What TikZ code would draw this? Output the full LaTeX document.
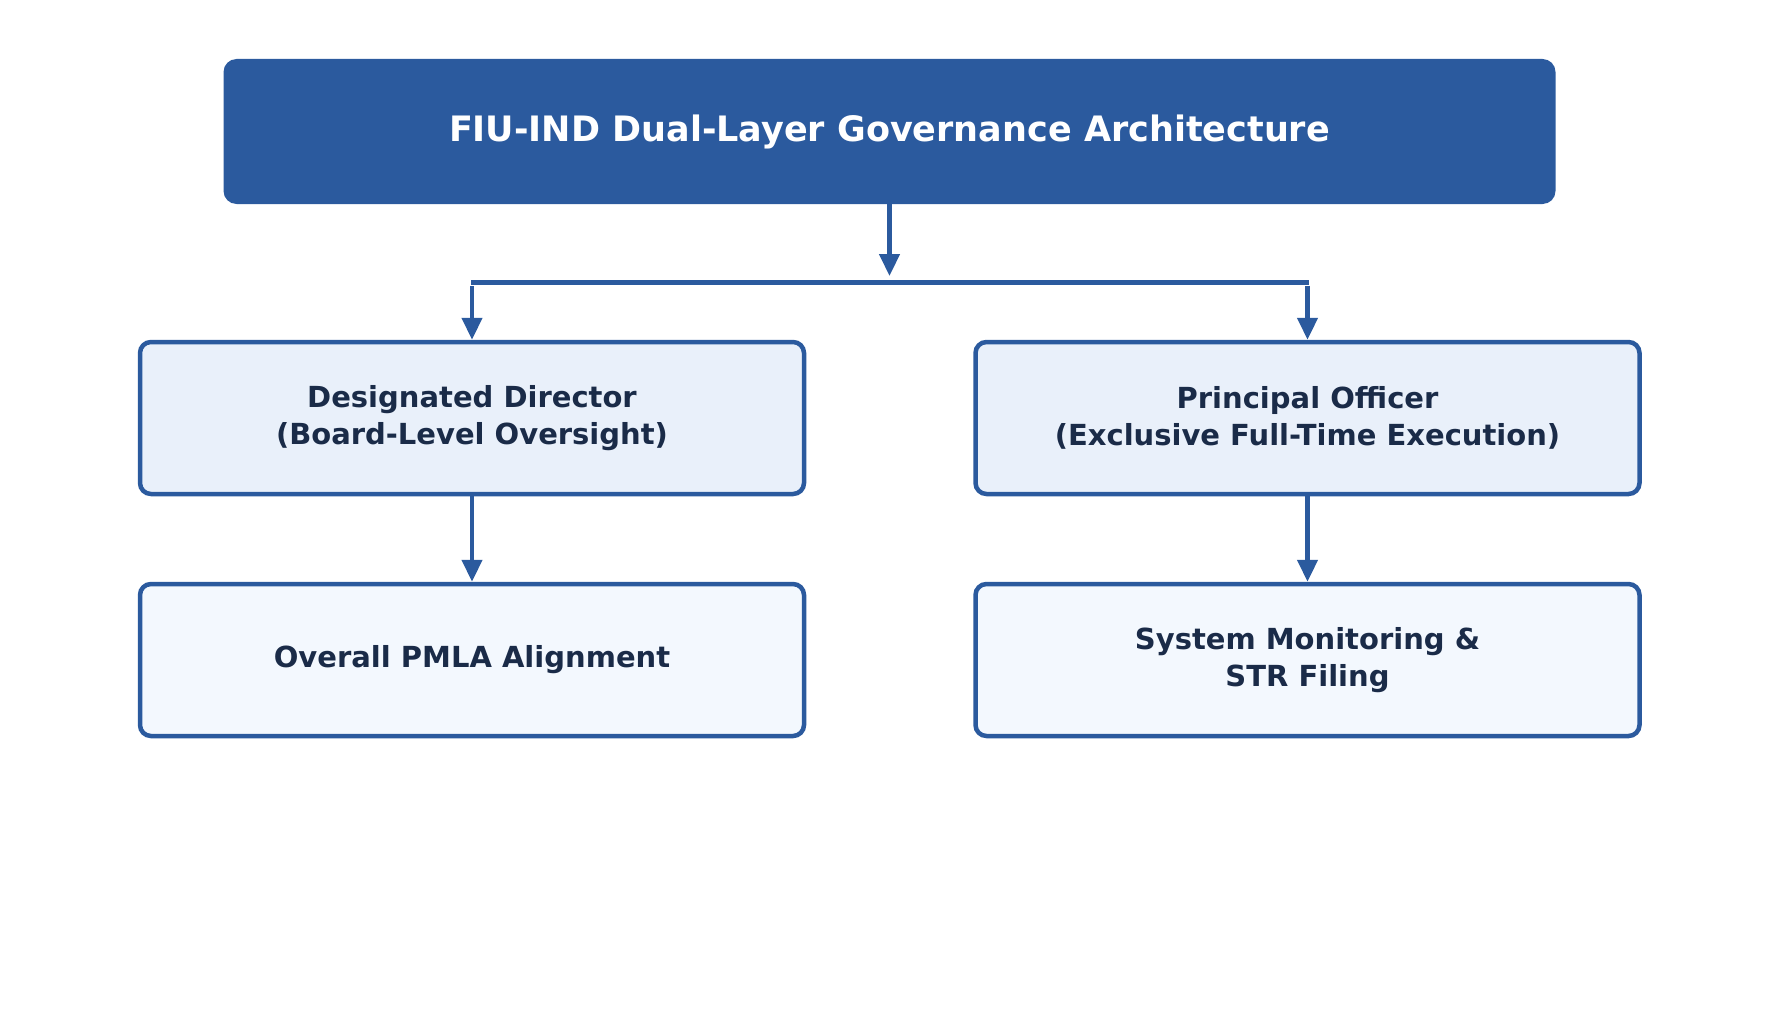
\documentclass[tikz,border=0pt]{standalone}
\usepackage{fontspec}
\setmainfont{DejaVu Sans}
\usepackage{tikz}
\usetikzlibrary{arrows.meta, positioning, calc}
\definecolor{govblue}{HTML}{2B5A9E}
\definecolor{boxfill}{HTML}{E9F0FA}
\definecolor{leaffill}{HTML}{F3F8FE}
\definecolor{inktext}{HTML}{1A2B48}

\begin{document}
\begin{tikzpicture}[x=1pt, y=1pt,
    titlebox/.style={rectangle, rounded corners=13pt, fill=govblue, text=white,
      minimum width=1332pt, minimum height=145pt, inner sep=0pt,
      font=\fontsize{35}{42}\selectfont\bfseries},
    rolebox/.style={rectangle, rounded corners=11pt, draw=govblue, line width=4.5pt,
      fill=boxfill, text=inktext, align=center,
      minimum width=664pt, minimum height=152pt, inner sep=0pt,
      font=\fontsize{29}{36.5}\selectfont\bfseries},
    leafbox/.style={rolebox, fill=leaffill},
    flow/.style={govblue, line width=4.5pt, -{Triangle[length=22pt, width=20pt]}}]
  \useasboundingbox (0,0) rectangle (1779,-1019);
  % --- Titre ---
  \node[titlebox] (arch) at (889.5,-131.5) {FIU-IND Dual-Layer Governance Architecture};
  % --- Deux niveaux ---
  \node[rolebox] (dd) at (472,-418) {Designated Director\\(Board-Level Oversight)};
  \node[rolebox] (po) at (1307.5,-418) {Principal Officer\\(Exclusive Full-Time Execution)};
  \node[leafbox] (pmla) at (472,-660) {Overall PMLA Alignment};
  \node[leafbox] (str) at (1307.5,-660) {System Monitoring \&\\STR Filing};
  % Barre de répartition
  \coordinate (barM) at (889.5,-276);
  \coordinate (barL) at (471,-282.5);
  \coordinate (barR) at (1309,-282.5);
  \draw[flow] (arch.south) -- (barM);
  \draw[govblue, line width=4.5pt] (barL) -- (barR);
  \draw[flow] ($(dd.north)+(0,54)$) -- (dd.north);
  \draw[flow] ($(po.north)+(0,54)$) -- (po.north);
  % Liaisons verticales
  \draw[flow] (dd.south) -- (pmla.north);
  \draw[flow] (po.south) -- (str.north);
\end{tikzpicture}
\end{document}
